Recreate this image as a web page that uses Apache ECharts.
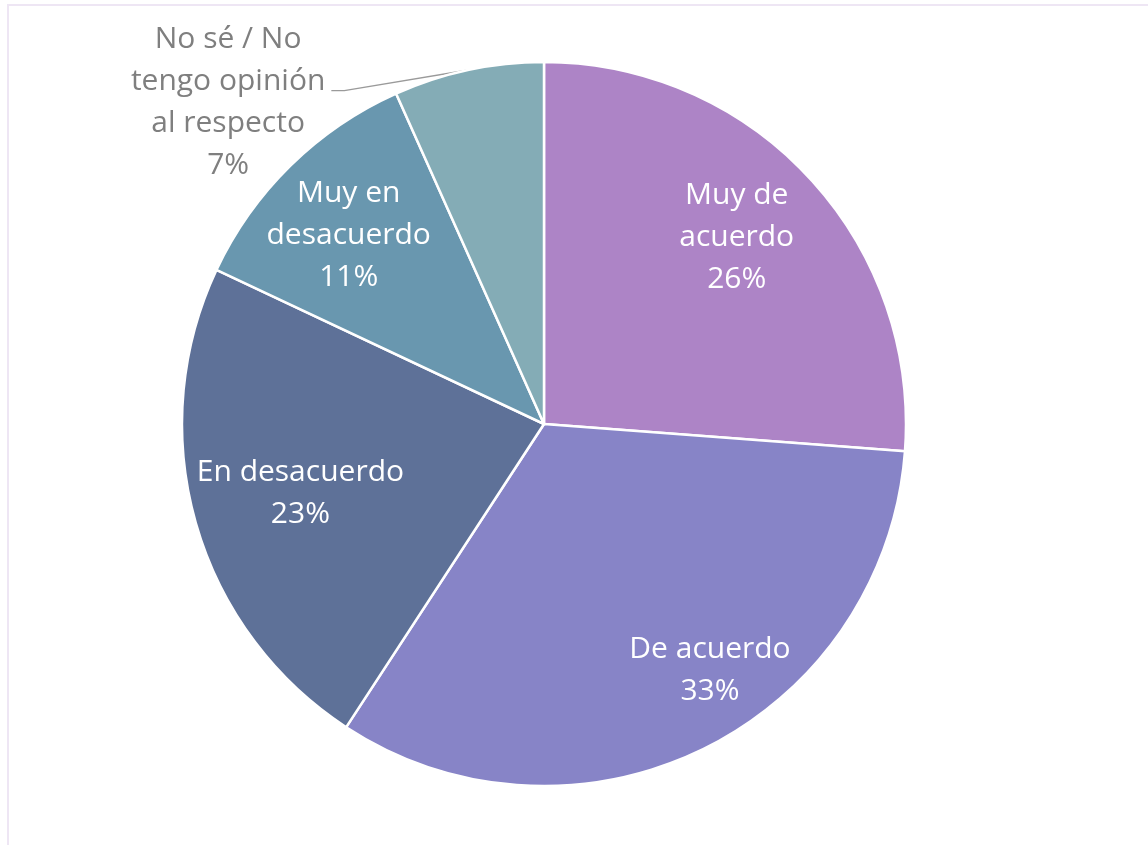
<!DOCTYPE html>
<html>
<head>
<meta charset="utf-8">
<script src="https://cdn.jsdelivr.net/npm/echarts@6/dist/echarts.min.js"></script>
<style>
  html, body { margin: 0; padding: 0; background: #fff; }
  #pieDiagram { width: 1148px; height: 845px; }
</style>
</head>
<body>
<div id="pieDiagram"></div>
<script>
//  分类与数值
const categories = ['Muy de acuerdo', 'De acuerdo', 'En desacuerdo', 'Muy en desacuerdo', 'No sé / No tengo opinión al respecto'];
const labelNames = ['Muy de\nacuerdo', 'De acuerdo', 'En desacuerdo', 'Muy en\ndesacuerdo', 'No sé / No\ntengo opinión\nal respecto'];
const values = [26.2, 33.0, 22.8, 11.3, 6.7];
const colors = ['#AD84C6', '#8784C7', '#5E7198', '#6997AF', '#84ACB6'];

//  饼图位置
const cx = 544, cy = 424, R = 362;
//  标签位置：[半径比例, 角度(从正上方顺时针)]
const labelSpots = [[0.74, 46], [0.82, 146], [0.70, 254], [0.75, 314], [1.245, 315.5]];

const total = values.reduce((a, b) => a + b, 0);
function midAngle(i) {
    let acc = 0;
    for (let k = 0; k < i; k++) acc += values[k];
    return (acc + values[i] / 2) / total * 360;
}
function polar(r, deg) {
    const rad = deg * Math.PI / 180;
    return [cx + r * Math.sin(rad), cy - r * Math.cos(rad)];
}

const myChart = echarts.init(document.getElementById('pieDiagram'));
myChart.setOption({
    animation: false,
    color: colors,
    //  外框
    graphic: [{
        type: 'rect',
        shape: {x: 8, y: 5, width: 1300, height: 1000},
        style: {fill: 'none', stroke: '#EEE6F4', lineWidth: 2},
        silent: true
    }],
    series: [{
        type: 'pie',
        center: [cx, cy],
        radius: [0, R],
        startAngle: 90,
        clockwise: true,
        data: values.map((v, i) => ({
            value: v,
            name: categories[i],
            label: i === 4 ? {position: 'outside', color: '#7F7F7F'} : {}
        })),
        itemStyle: {borderColor: '#FFFFFF', borderWidth: 2.5},
        label: {
            position: 'inside',
            color: '#FFFFFF',
            fontFamily: 'Open Sans',
            fontSize: 30,
            lineHeight: 42,
            align: 'center',
            formatter: function (p) {
                return labelNames[p.dataIndex] + '\n' + Math.round(p.value) + '%';
            }
        },
        labelLine: {
            show: true,
            length: 10,
            length2: 10,
            lineStyle: {color: '#9A9A9A', width: 1.3}
        },
        labelLayout: function (p) {
            const spot = labelSpots[p.dataIndex];
            const pos = polar(spot[0] * R, spot[1]);
            const res = {x: pos[0], y: pos[1], align: 'center', verticalAlign: 'middle'};
            if (p.dataIndex === 4) {
                const w = p.labelRect.width;
                const edge = polar(R, midAngle(4));
                const yLine = pos[1] - 12;
                const xRight = pos[0] + w / 2 + 6;
                res.labelLinePoints = [edge, [xRight + 13, yLine], [xRight, yLine]];
            }
            return res;
        }
    }]
});
</script>
</body>
</html>
